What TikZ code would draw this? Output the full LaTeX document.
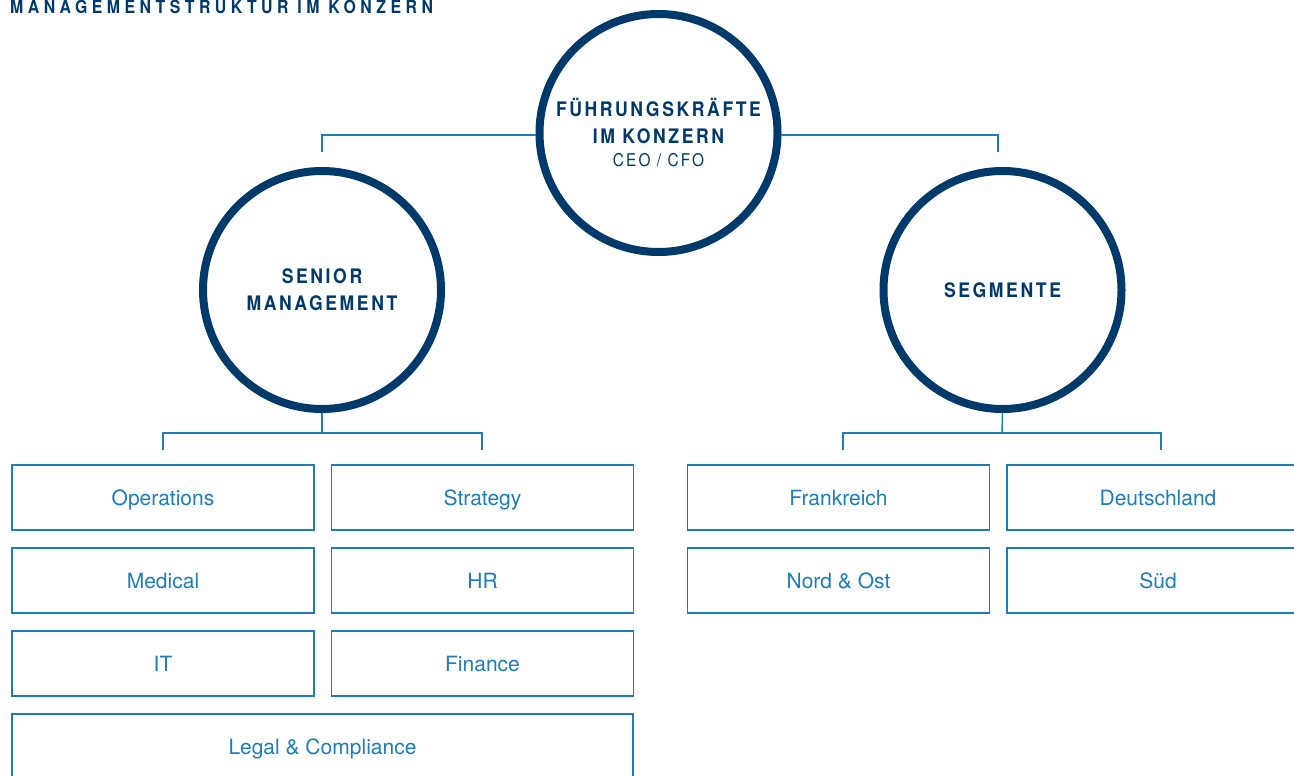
\documentclass[tikz,border=0pt]{standalone}
\usepackage{fontspec}
\setmainfont{TeX Gyre Heros}
\newfontfamily\titlefont[LetterSpace=25,FakeStretch=0.88]{TeX Gyre Heros}
\newfontfamily\headfont[LetterSpace=13,FakeStretch=0.88]{TeX Gyre Heros}
\newfontfamily\subfont[LetterSpace=12,FakeStretch=0.88]{TeX Gyre Heros}
\definecolor{navy}{HTML}{003A6A}
\definecolor{lblue}{HTML}{1D7DB9}
\begin{document}
\begin{tikzpicture}[x=1pt,y=-1pt,
  circ/.style={circle,draw=navy,line width=8pt,minimum size=238pt,inner sep=0pt,align=center,text=navy,
    font=\headfont\bfseries\fontsize{20}{27}\selectfont},
  box/.style={rectangle,draw=lblue,line width=1.8pt,minimum width=302pt,minimum height=65pt,inner sep=0pt,
    text height=20pt,text depth=3.6pt,text=lblue,font=\fontsize{21}{24}\selectfont},
  conn/.style={draw=lblue,line width=1.4pt},
  titletxt/.style={anchor=base west,inner sep=0pt,text=navy,font=\titlefont\bfseries\fontsize{18}{20}\selectfont}]
\clip (0,0) rectangle (1294,776);
\fill[white] (0,0) rectangle (1294,776);
\node[titletxt] (title) at (10,14) {MANAGEMENTSTRUKTUR IM KONZERN};
% circles
\node[circ] (top) at (658.5,133) {FÜHRUNGSKRÄFTE\\IM KONZERN\\[-4pt]{\subfont\mdseries\fontsize{17.5}{20}\selectfont CEO / CFO}};
\node[circ] (sm) at (322,290) {SENIOR\\MANAGEMENT};
\node[circ] (seg) at (1002.5,290) {SEGMENTE};
% boxes
\node[box] (ops) at (163,497.5) {Operations};
\node[box] (str) at (482.5,497.5) {Strategy};
\node[box] (med) at (163,580.5) {Medical};
\node[box] (hr) at (482.5,580.5) {HR};
\node[box] (it) at (163,663.5) {IT};
\node[box] (fin) at (482.5,663.5) {Finance};
\node[box,minimum width=621.5pt] (legal) at (322.5,746.5) {Legal \& Compliance};
\node[box] (fr) at (838.5,497.5) {Frankreich};
\node[box] (de) at (1158,497.5) {Deutschland};
\node[box] (no) at (838.5,580.5) {Nord \& Ost};
\node[box] (sued) at (1158,580.5) {Süd};
% connector coordinates
\coordinate (smin) at (322,152);
\coordinate (segin) at (998,152);
\coordinate (smj) at (322,433);
\coordinate (segj) at (1002,433);
\coordinate (opsin) at (163,450);
\coordinate (strin) at (482,450);
\coordinate (frin) at (843,450);
\coordinate (dein) at (1161,450);
% connectors
\draw[conn] (top.181) -| (smin);
\draw[conn] (top.-1) -| (segin);
\draw[conn] (sm.south) -- (smj);
\draw[conn] (opsin) |- (smj) -| (strin);
\draw[conn] (seg.south) -- (segj);
\draw[conn] (frin) |- (segj) -| (dein);
\end{tikzpicture}
\end{document}
